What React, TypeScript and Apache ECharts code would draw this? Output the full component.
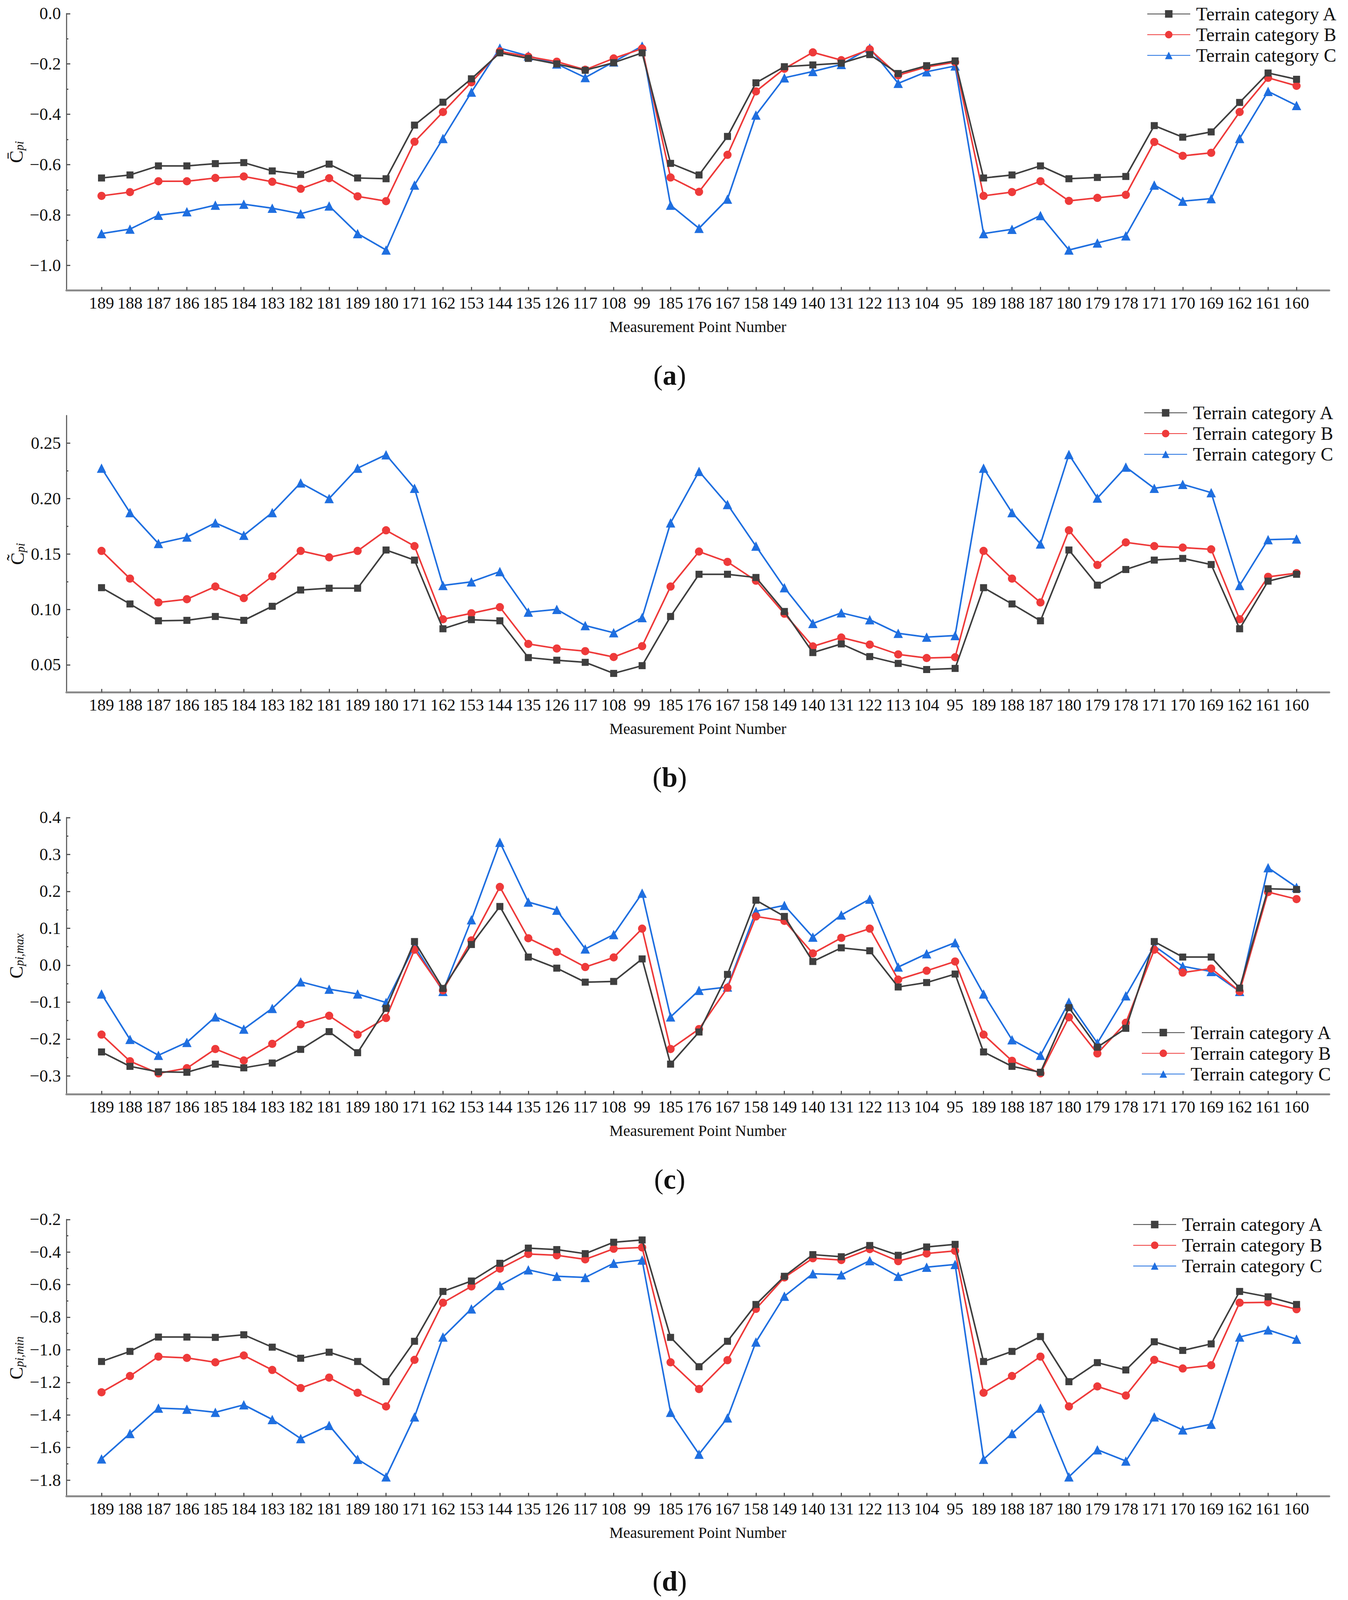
import React, { useEffect, useRef, useState } from "react";
import * as echarts from "echarts";

const FONT = '"Liberation Serif", "Times New Roman", Times, serif';

const pointLabels = [
  "189", "188", "187", "186", "185", "184", "183", "182", "181", "189", "180",
  "171", "162", "153", "144", "135", "126", "117", "108", "99",
  "185", "176", "167", "158", "149", "140", "131", "122", "113", "104", "95",
  "189", "188", "187", "180", "179", "178", "171", "170", "169", "162", "161", "160",
];

const seriesNames = ["Terrain category A", "Terrain category B", "Terrain category C"];

// (a) mean
const meanA = [-0.653, -0.641, -0.605, -0.605, -0.596, -0.592, -0.625, -0.639, -0.598, -0.653, -0.656, -0.443, -0.352, -0.259, -0.156, -0.178, -0.2, -0.225, -0.195, -0.156, -0.595, -0.641, -0.488, -0.275, -0.211, -0.204, -0.197, -0.163, -0.238, -0.207, -0.188, -0.653, -0.641, -0.605, -0.656, -0.651, -0.647, -0.445, -0.491, -0.47, -0.353, -0.236, -0.261];
const meanB = [-0.724, -0.709, -0.666, -0.666, -0.653, -0.647, -0.668, -0.696, -0.654, -0.726, -0.745, -0.509, -0.391, -0.273, -0.15, -0.171, -0.191, -0.223, -0.178, -0.139, -0.651, -0.708, -0.561, -0.309, -0.219, -0.154, -0.185, -0.142, -0.245, -0.212, -0.193, -0.724, -0.709, -0.666, -0.744, -0.732, -0.72, -0.51, -0.565, -0.553, -0.391, -0.255, -0.287];
const meanC = [-0.874, -0.856, -0.801, -0.787, -0.761, -0.757, -0.773, -0.795, -0.764, -0.874, -0.939, -0.681, -0.496, -0.312, -0.137, -0.168, -0.2, -0.254, -0.192, -0.129, -0.761, -0.853, -0.737, -0.403, -0.255, -0.23, -0.202, -0.137, -0.277, -0.231, -0.208, -0.874, -0.857, -0.802, -0.939, -0.911, -0.883, -0.681, -0.745, -0.735, -0.496, -0.309, -0.365];

// (b) fluctuating
const rmsA = [0.1196, 0.1049, 0.0897, 0.0901, 0.0936, 0.0901, 0.1028, 0.1175, 0.1191, 0.1191, 0.1536, 0.1445, 0.0825, 0.0907, 0.0897, 0.0565, 0.0541, 0.0522, 0.0422, 0.0492, 0.0936, 0.1317, 0.1317, 0.1288, 0.0981, 0.061, 0.0688, 0.0574, 0.0512, 0.0457, 0.0467, 0.1196, 0.1049, 0.0897, 0.1536, 0.1219, 0.136, 0.1445, 0.146, 0.1405, 0.0825, 0.1255, 0.1317];
const rmsB = [0.1528, 0.1278, 0.1063, 0.1092, 0.1206, 0.1102, 0.1298, 0.1528, 0.147, 0.1528, 0.1714, 0.1571, 0.0911, 0.0965, 0.102, 0.0688, 0.0647, 0.0623, 0.057, 0.0668, 0.1206, 0.1522, 0.1429, 0.1259, 0.0961, 0.0666, 0.0746, 0.0682, 0.0594, 0.0561, 0.0568, 0.1528, 0.1278, 0.1063, 0.1714, 0.1401, 0.1605, 0.1571, 0.1558, 0.1542, 0.0911, 0.1294, 0.1327];
const rmsC = [0.2275, 0.1874, 0.1595, 0.1653, 0.1781, 0.1669, 0.1874, 0.2142, 0.2001, 0.2275, 0.2396, 0.2093, 0.1216, 0.1249, 0.1341, 0.0975, 0.1, 0.0854, 0.0789, 0.0926, 0.1781, 0.2246, 0.1947, 0.1571, 0.1196, 0.0873, 0.0969, 0.0907, 0.0784, 0.075, 0.0764, 0.2275, 0.1874, 0.1591, 0.2398, 0.2005, 0.2285, 0.2093, 0.2129, 0.2054, 0.1216, 0.163, 0.1636];

// (c) max
const maxA = [-0.235, -0.274, -0.289, -0.29, -0.268, -0.278, -0.265, -0.228, -0.18, -0.237, -0.117, 0.064, -0.063, 0.056, 0.159, 0.022, -0.008, -0.046, -0.044, 0.017, -0.268, -0.181, -0.025, 0.176, 0.132, 0.01, 0.047, 0.039, -0.059, -0.047, -0.024, -0.235, -0.274, -0.29, -0.115, -0.222, -0.171, 0.064, 0.022, 0.022, -0.062, 0.207, 0.205];
const maxB = [-0.188, -0.26, -0.293, -0.279, -0.227, -0.258, -0.213, -0.16, -0.137, -0.188, -0.143, 0.042, -0.068, 0.067, 0.212, 0.073, 0.036, -0.005, 0.021, 0.099, -0.227, -0.173, -0.061, 0.132, 0.12, 0.032, 0.074, 0.099, -0.039, -0.015, 0.01, -0.188, -0.259, -0.293, -0.141, -0.239, -0.156, 0.042, -0.02, -0.009, -0.071, 0.198, 0.179];
const maxC = [-0.078, -0.201, -0.244, -0.209, -0.14, -0.173, -0.117, -0.045, -0.065, -0.078, -0.101, 0.052, -0.071, 0.123, 0.333, 0.171, 0.149, 0.044, 0.083, 0.195, -0.14, -0.068, -0.059, 0.146, 0.162, 0.076, 0.136, 0.179, -0.005, 0.031, 0.061, -0.078, -0.202, -0.244, -0.1, -0.211, -0.083, 0.052, -0.003, -0.017, -0.071, 0.264, 0.211];

// (d) min
const minA = [-1.072, -1.01, -0.922, -0.922, -0.924, -0.908, -0.984, -1.052, -1.015, -1.072, -1.196, -0.948, -0.642, -0.578, -0.469, -0.376, -0.385, -0.41, -0.34, -0.326, -0.924, -1.104, -0.948, -0.722, -0.549, -0.416, -0.429, -0.36, -0.42, -0.369, -0.353, -1.072, -1.01, -0.919, -1.196, -1.079, -1.124, -0.951, -1.004, -0.964, -0.642, -0.675, -0.722];
const minB = [-1.261, -1.161, -1.042, -1.05, -1.077, -1.035, -1.124, -1.235, -1.171, -1.264, -1.348, -1.062, -0.711, -0.611, -0.502, -0.412, -0.42, -0.445, -0.38, -0.372, -1.077, -1.241, -1.064, -0.749, -0.556, -0.438, -0.449, -0.382, -0.456, -0.409, -0.393, -1.264, -1.161, -1.042, -1.348, -1.225, -1.281, -1.062, -1.115, -1.095, -0.711, -0.709, -0.751];
const minC = [-1.67, -1.514, -1.358, -1.365, -1.384, -1.338, -1.428, -1.545, -1.464, -1.672, -1.78, -1.412, -0.922, -0.749, -0.605, -0.509, -0.549, -0.556, -0.469, -0.449, -1.384, -1.641, -1.418, -0.952, -0.671, -0.533, -0.54, -0.453, -0.549, -0.493, -0.476, -1.672, -1.514, -1.358, -1.78, -1.614, -1.683, -1.412, -1.492, -1.457, -0.922, -0.878, -0.935];

// y-axis tick values
const yMajorA = [0, -0.2, -0.4, -0.6, -0.8, -1.0];
const yMinorA = [-0.1, -0.3, -0.5, -0.7, -0.9];
const yMajorB = [0.05, 0.1, 0.15, 0.2, 0.25];
const yMinorB = [0.075, 0.125, 0.175, 0.225];
const yMajorC = [-0.3, -0.2, -0.1, 0, 0.1, 0.2, 0.3, 0.4];
const yMinorC = [-0.25, -0.15, -0.05, 0.05, 0.15, 0.25, 0.35];
const yMajorD = [-1.8, -1.6, -1.4, -1.2, -1.0, -0.8, -0.6, -0.4, -0.2];
const yMinorD = [-1.7, -1.5, -1.3, -1.1, -0.9, -0.7, -0.5, -0.3];

const panelLetters = ["a", "b", "c", "d"];

const COLORS = ["#3f3f3f", "#ee3a3a", "#1f6fe0"];
const SYMBOLS = ["rect", "circle", "triangle"];
const SYMBOL_SIZES = [18, 21, 24];

const PAGE_W = 3452;
const PAGE_H = 4709;
const PANEL_H = 1183;
const GRID_LEFT = 170;
const GRID_TOP = 40;
const GRID_W = 3234;
const GRID_H = 815;

const panels = [
  { data: [meanA, meanB, meanC], min: -1.1, max: 0, majors: yMajorA, minors: yMinorA, dec: 1, name: "{c|C\u0304}{s|pi}", legend: { left: 2937, top: 17 } },
  { data: [rmsA, rmsB, rmsC], min: 0.025, max: 0.275, majors: yMajorB, minors: yMinorB, dec: 2, name: "{c|C\u0303}{s|pi}", legend: { left: 2929, top: 8 } },
  { data: [maxA, maxB, maxC], min: -0.35, max: 0.4, majors: yMajorC, minors: yMinorC, dec: 1, name: "{c|C}{s|pi,max}", legend: { left: 2923, top: 649 } },
  { data: [minA, minB, minC], min: -1.9, max: -0.2, majors: yMajorD, minors: yMinorD, dec: 1, name: "{c|C}{s|pi,min}", legend: { left: 2901, top: 31 } },
];

function fmtY(v: number, dec: number) {
  const s = Math.abs(v).toFixed(dec);
  return (v < -1e-9 ? "\u2212" : "") + s;
}

function buildOption(sy: number) {
  const xTicks = pointLabels.map((_, i) => i);
  const grid: any[] = [];
  const xAxis: any[] = [];
  const yAxis: any[] = [];
  const series: any[] = [];
  const legend: any[] = [];
  const graphic: any[] = [];

  panels.forEach((p, k) => {
    const off = k * PANEL_H;
    grid.push({ left: GRID_LEFT, top: (GRID_TOP + off) * sy, width: GRID_W, height: GRID_H * sy, containLabel: false });
    xAxis.push({
      gridIndex: k,
      type: "value",
      min: -1.235,
      max: 43.15,
      axisLine: { show: true, onZero: false, lineStyle: { color: "#8c8c8c", width: 5 } },
      axisTick: { show: true, inside: true, length: 9, customValues: xTicks, lineStyle: { color: "#555", width: 3 } },
      axisLabel: {
        customValues: xTicks,
        formatter: (v: number) => pointLabels[Math.round(v)] ?? "",
        fontSize: 43,
        fontFamily: FONT,
        color: "#111",
        margin: 12 * sy,
      },
      splitLine: { show: false },
      name: "Measurement Point Number",
      nameLocation: "middle",
      nameGap: 84 * sy,
      nameTextStyle: { fontSize: 40, fontFamily: FONT, color: "#111" },
    });
    yAxis.push({
      gridIndex: k,
      type: "value",
      position: "left",
      min: p.min,
      max: p.max,
      axisLine: { show: true, onZero: false, lineStyle: { color: "#666", width: 3 } },
      axisTick: { show: true, inside: true, length: 10, customValues: p.majors, lineStyle: { color: "#555", width: 3 } },
      axisLabel: {
        customValues: p.majors,
        formatter: (v: number) => fmtY(v, p.dec),
        fontSize: 44,
        fontFamily: FONT,
        color: "#111",
        margin: 14,
      },
      splitLine: { show: false },
      name: p.name,
      nameLocation: "middle",
      nameRotate: 90,
      nameGap: 100,
      nameTextStyle: {
        fontFamily: FONT,
        color: "#111",
        rich: {
          c: { fontSize: 48, fontFamily: FONT, color: "#111", lineHeight: 52, verticalAlign: "bottom" },
          s: { fontSize: 31, fontFamily: FONT, fontStyle: "italic", color: "#111", lineHeight: 20, verticalAlign: "bottom" },
        },
      },
    });
    yAxis.push({
      gridIndex: k,
      type: "value",
      position: "left",
      min: p.min,
      max: p.max,
      axisLine: { show: false, onZero: false },
      axisTick: { show: true, inside: true, length: 5, customValues: p.minors, lineStyle: { color: "#555", width: 3 } },
      axisLabel: { show: false },
      splitLine: { show: false },
    });
    p.data.forEach((vals, si) => {
      series.push({
        name: seriesNames[si],
        type: "line",
        xAxisIndex: k,
        yAxisIndex: 2 * k,
        data: vals.map((v, i) => [i, v]),
        symbol: SYMBOLS[si],
        symbolSize: SYMBOL_SIZES[si],
        showAllSymbol: true,
        lineStyle: { color: COLORS[si], width: 4 },
        itemStyle: { color: COLORS[si] },
        z: 3 - si,
      });
    });
    legend.push({
      orient: "vertical",
      left: p.legend.left,
      top: (p.legend.top + 24 + off) * sy - 24,
      itemWidth: 110,
      itemHeight: 24,
      itemGap: 61 * sy - 48,
      padding: 0,
      data: seriesNames,
      textStyle: { fontSize: 48, fontFamily: FONT, color: "#111", lineHeight: 48, padding: [0, 0, 0, 10] },
    });
    graphic.push({
      type: "text",
      x: 1715,
      y: (1105 + off) * sy,
      style: {
        text: "{p|(}{b|" + panelLetters[k] + "}{p|)}",
        align: "center",
        verticalAlign: "middle",
        rich: {
          p: { fontSize: 72, fontFamily: FONT, fill: "#111", color: "#111" },
          b: { fontSize: 72, fontFamily: FONT, fontWeight: "bold", fill: "#111", color: "#111" },
        },
      },
    });
  });

  return {
    animation: false,
    backgroundColor: "#ffffff",
    grid,
    xAxis,
    yAxis,
    series,
    legend,
    graphic,
  };
}

function visibleHeight() {
  if (typeof window === "undefined") return PAGE_H;
  const h = window.innerHeight || PAGE_H;
  return Math.min(PAGE_H, h);
}

export default function App() {
  const ref = useRef<HTMLDivElement>(null);
  const [height] = useState<number>(() => visibleHeight());
  useEffect(() => {
    const prevMargin = document.body.style.margin;
    document.body.style.margin = "0";
    if (!ref.current) return;
    const chart = echarts.init(ref.current, undefined, { renderer: "svg" });
    chart.setOption(buildOption(height / PAGE_H) as any);
    return () => {
      chart.dispose();
      document.body.style.margin = prevMargin;
    };
  }, [height]);
  return (
    <div
      ref={ref}
      style={{ display: "block", width: PAGE_W, height, background: "#fff" }}
    />
  );
}
